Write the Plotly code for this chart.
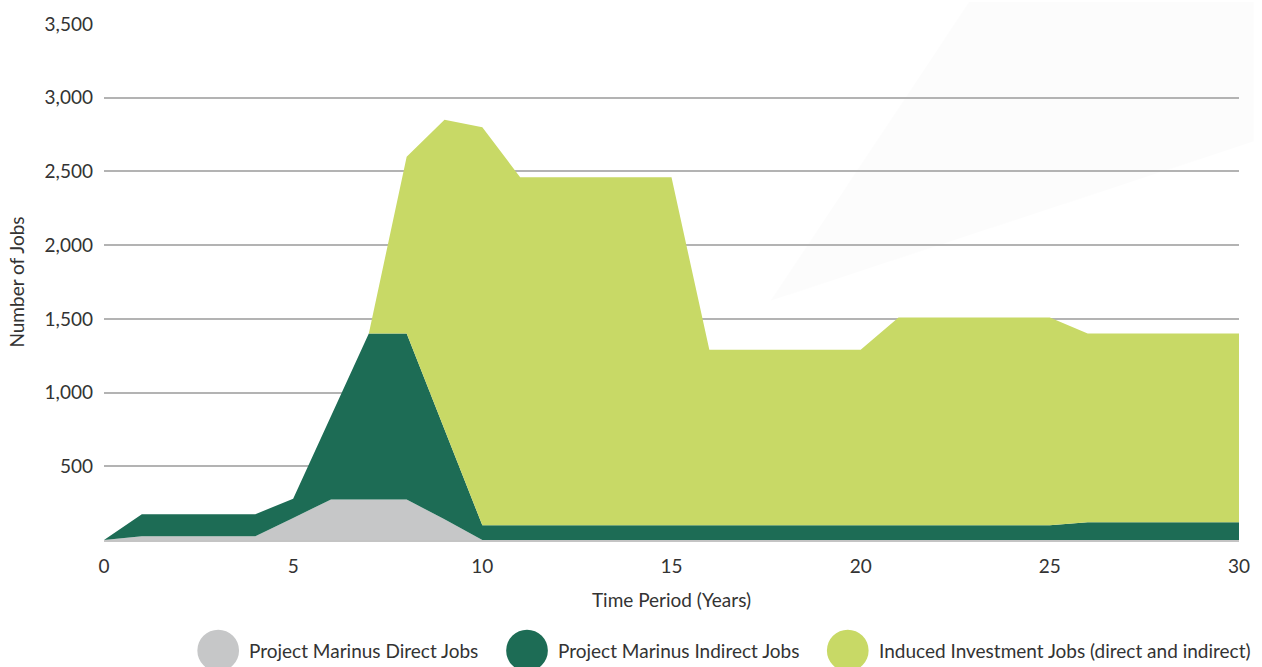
import plotly.graph_objects as go

years = list(range(0, 31))
direct_jobs = [0, 25, 25, 25, 25, 150, 275, 275, 275, 140, 0] + [0] * 20
indirect_jobs = [0, 150, 150, 150, 150, 130, 565, 1125, 1125, 610, 100] + [100] * 15 + [120] * 5
induced_jobs = [0, 0, 0, 0, 0, 0, 0, 0, 1200, 2100, 2700] + [2360] * 5 + [1190] * 5 + [1410] * 5 + [1280] * 5

series_names = ["Project Marinus Direct Jobs", "Project Marinus Indirect Jobs",
                "Induced Investment Jobs (direct and indirect)"]
series_colors = ["#c6c7c8", "#1d6c55", "#c8d966"]
y_ticks = [500, 1000, 1500, 2000, 2500, 3000, 3500]
x_ticks = [0, 5, 10, 15, 20, 25, 30]

FONT = "Lato"
FS = 19
TXT = "#333333"

fig = go.Figure()
for name, vals, col in zip(series_names, [direct_jobs, indirect_jobs, induced_jobs], series_colors):
    fig.add_trace(go.Scatter(
        x=years, y=vals, name=name, mode="lines", stackgroup="one",
        line=dict(width=0, color=col), fillcolor=col, showlegend=False,
    ))

# Plot-area geometry (pixels) for legend placement
W, H = 1262, 667
L, R, T, B = 104, 15, 22, 127
pw, ph = W - L - R, H - T - B
def px(x): return (x - L) / pw
def py(y): return (H - B - y) / ph

shapes = []
# faint diagonal background wedge
shapes.append(dict(type="path", xref="paper", yref="paper", layer="below",
                   path=f"M {px(975)} {py(0)} L {px(775)} {py(300)} L {px(1262)} {py(140)} L {px(1262)} {py(0)} Z",
                   fillcolor="rgba(0,0,0,0.01)", line=dict(width=0)))

annotations = []
legend_cx = [219, 530, 853]
for cx, name, col in zip(legend_cx, series_names, series_colors):
    r = 21
    shapes.append(dict(type="circle", xref="paper", yref="paper",
                       x0=px(cx - r), x1=px(cx + r), y0=py(651 + r), y1=py(651 - r),
                       fillcolor=col, line=dict(width=0)))
    annotations.append(dict(text=name, xref="paper", yref="paper", x=px(cx + 29), y=py(651),
                            xanchor="left", yanchor="middle", showarrow=False,
                            font=dict(family=FONT, size=FS, color=TXT)))

fig.update_layout(
    width=W, height=H,
    margin=dict(l=L, r=R, t=T, b=B),
    paper_bgcolor="white", plot_bgcolor="rgba(0,0,0,0)",
    font=dict(family=FONT, size=FS, color=TXT),
    shapes=shapes, annotations=annotations,
    xaxis=dict(range=[0, 30], tickvals=x_ticks, showgrid=False, zeroline=False,
               showline=True, linecolor="#c4c4c4", linewidth=2,
               ticks="", ticklabelstandoff=8,
               title=dict(text="Time Period (Years)", font=dict(size=FS), standoff=18)),
    yaxis=dict(range=[0, 3500], tickvals=y_ticks, tickformat=",", showgrid=True,
               gridcolor="#b3b3b3", gridwidth=2, zeroline=False, showline=False,
               ticks="", ticklabelstandoff=10,
               title=dict(text="Number of Jobs", font=dict(size=FS), standoff=14)),
)

fig.write_html("out.html")
